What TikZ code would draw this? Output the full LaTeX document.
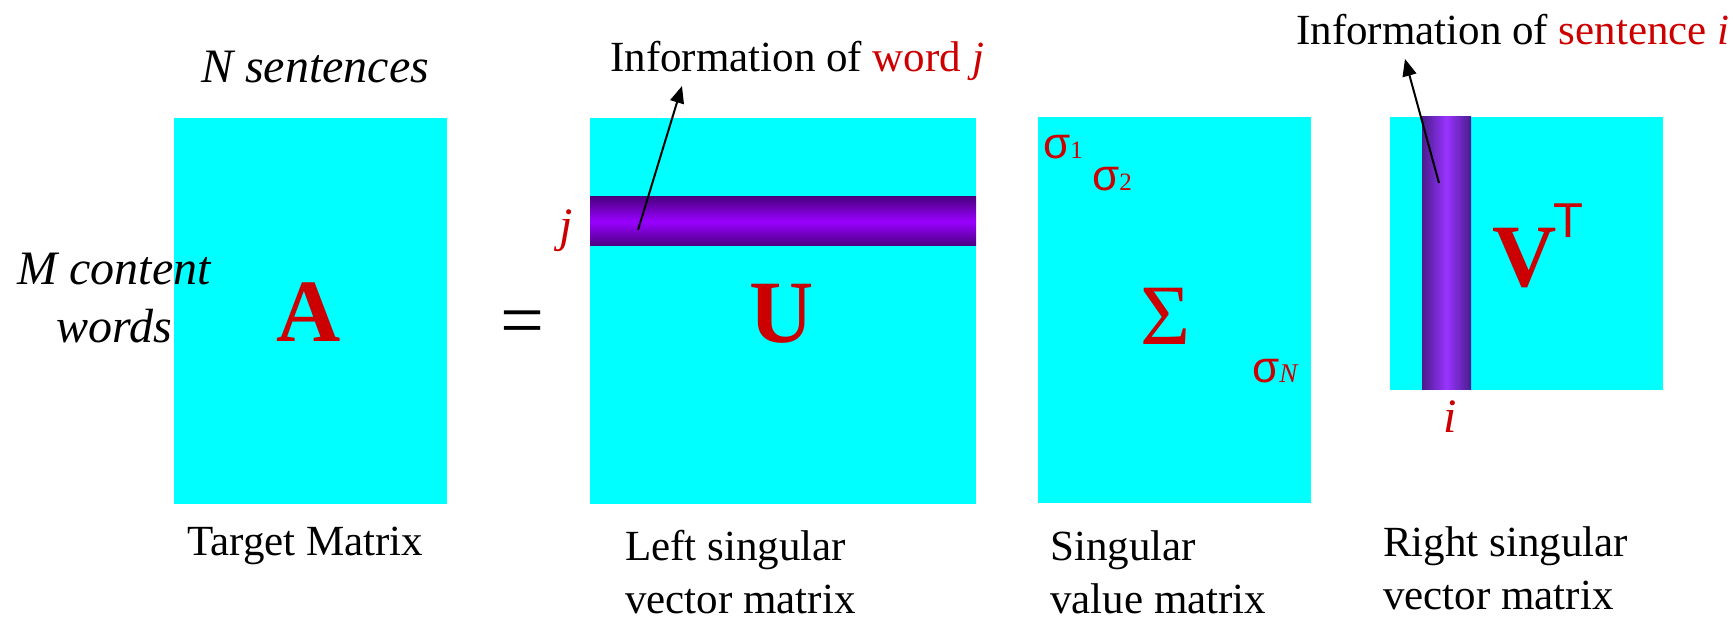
\documentclass[tikz,border=0pt]{standalone}
\usepackage{fontspec}
\setmainfont{Liberation Serif}
\newfontfamily\sansf{Liberation Sans}
\usetikzlibrary{arrows.meta}
\definecolor{cy}{HTML}{00FFFF}
\definecolor{rd}{HTML}{CC0000}
\definecolor{pdark}{HTML}{4B0082}
\definecolor{pmid}{HTML}{9900FF}
\definecolor{vdark}{HTML}{4A1D8C}
\definecolor{vmid}{HTML}{9933FF}
\newcommand{\twoleft}[2]{\vtop{\hbox{#1}\hbox{#2}}}
\newcommand{\twocenter}[2]{\vtop{\halign{\hfil##\hfil\cr #1\cr #2\cr}}}
\begin{document}
\begin{tikzpicture}[x=1pt,y=-1pt,
  mat/.style={fill=cy, draw=none, anchor=north west, inner sep=0pt},
  lbl/.style={inner sep=0pt, anchor=base west, font=\fontsize{43}{53}\selectfont},
  itl/.style={inner sep=0pt, font=\fontsize{48}{58}\selectfont\itshape},
  big/.style={inner sep=0pt, anchor=base, text=rd, font=\fontsize{89}{89}\selectfont\bfseries},
  sig/.style={inner sep=0pt, anchor=base west, text=rd, font=\fontsize{44}{44}\selectfont\sansf},
  idx/.style={inner sep=0pt, anchor=base west, text=rd, font=\fontsize{48}{48}\selectfont\itshape},
  arr/.style={line width=2pt, -{Triangle[length=17pt,width=14pt]}}
]
\useasboundingbox (0,0) rectangle (1733,617);

% matrices
\node[mat, minimum width=273pt, minimum height=386pt] (A) at (174,118) {};
\node[mat, minimum width=386pt, minimum height=386pt] (U) at (590,118) {};
\node[mat, minimum width=273pt, minimum height=386pt] (S) at (1038,117) {};
\node[mat, minimum width=273pt, minimum height=273pt] (V) at (1390,117) {};

% highlighted row / column
\shade[top color=pdark, bottom color=pdark, middle color=pmid] (590,197) rectangle (976,246);
\shade[left color=vdark, right color=vdark, middle color=vmid] (1422,117) rectangle (1471,390);

% big letters
\node[big] (Alet) at (309,342) {A};
\node[big] (Ulet) at (782,343) {U};
\node[big, font=\fontsize{86}{86}\selectfont] (Slet) at (1166,345) {Σ};
\node[big] (Vlet) at (1525,287) {V};
\node[inner sep=0pt, anchor=base west, text=rd, font=\fontsize{49}{49}\selectfont\sansf] (Tlet) at (1553,238) {T};

% equals sign
\node[inner sep=0pt, font=\fontsize{78}{78}\selectfont] (eq) at (522,329) {=};

% sigmas
\node[sig] (s1) at (1043,159) {σ{\fontsize{25}{25}\selectfont\rmfamily 1}};
\node[sig] (s2) at (1092,191) {σ{\fontsize{25}{25}\selectfont\rmfamily 2}};
\node[sig] (sN) at (1252,383) {σ{\fontsize{27}{27}\selectfont\rmfamily\itshape N}};

% indices
\node[idx] (jl) at (559,242) {j};
\node[idx] (il) at (1443,433) {i};

% side texts
\node[itl, anchor=base] (Ns) at (315,83) {N sentences};
\node[itl, anchor=base] (Mw) at (114,285) {\twocenter{M content}{words}};

% captions
\node[lbl] (capA) at (187,555) {Target Matrix};
\node[lbl] (capU) at (625,560) {\twoleft{Left singular}{vector matrix}};
\node[lbl] (capS) at (1050,560) {\twoleft{Singular}{value matrix}};
\node[lbl] (capV) at (1383,556) {\twoleft{Right singular}{vector matrix}};

% information labels
\node[lbl] (infoU) at (610,72) {Information of \textcolor{rd}{word \textit{j}}};
\node[lbl] (infoV) at (1296,45) {Information of \textcolor{rd}{sentence \textit{i}}};

% arrows
\coordinate (ut) at (638,230);
\coordinate (uh) at (682,86);
\coordinate (vt) at (1439,183);
\coordinate (vh) at (1405,59);
\draw[arr] (ut) -- (uh);
\draw[arr] (vt) -- (vh);
\end{tikzpicture}
\end{document}
